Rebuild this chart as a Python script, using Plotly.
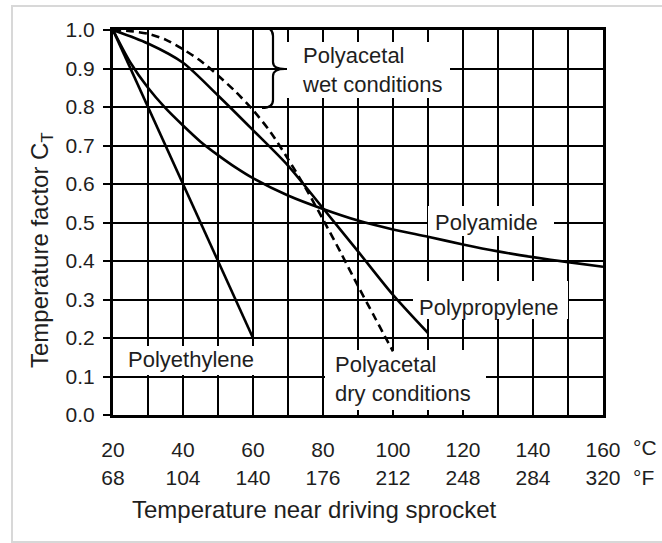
import plotly.graph_objects as go

# ---------------- data ----------------
polyethylene_T = [20, 60]
polyethylene_C = [1.0, 0.2]

polyamide_T = [20, 25, 30, 35, 40, 45, 50, 55, 60, 70, 80, 90, 100, 110, 120, 130, 140, 150, 160]
polyamide_C = [1.0, 0.915, 0.85, 0.797, 0.752, 0.71, 0.675, 0.643, 0.615, 0.57, 0.535, 0.505, 0.482, 0.463, 0.443, 0.425, 0.41, 0.397, 0.385]

polypropylene_T = [20, 30, 40, 50, 60, 70, 80, 90, 100, 110]
polypropylene_C = [1.0, 0.965, 0.915, 0.83, 0.74, 0.648, 0.537, 0.425, 0.312, 0.213]

polyacetal_T = [20, 25, 30, 35, 40, 45, 50, 55, 60, 65, 70, 75, 80, 85, 90, 95, 100]
polyacetal_C = [1.0, 0.997, 0.99, 0.975, 0.95, 0.92, 0.882, 0.84, 0.792, 0.735, 0.665, 0.59, 0.508, 0.423, 0.335, 0.25, 0.165]

celsius_ticks = [20, 40, 60, 80, 100, 120, 140, 160]
fahrenheit_ticks = [68, 104, 140, 176, 212, 248, 284, 320]
y_ticks = [0.0, 0.1, 0.2, 0.3, 0.4, 0.5, 0.6, 0.7, 0.8, 0.9, 1.0]

# ---------------- geometry helpers (pixel -> data/paper) ----------------
L, R, T, B = 113, 59, 30, 128
W, H = 662, 543
PW, PH = W - L - R, H - T - B
X0, X1 = 20, 160


def tx(px):
    return X0 + (px - L) / PW * (X1 - X0)


def ty(py):
    return 1 - (py - T) / PH


def px_(px):
    return (px - L) / PW


def py_(py):
    return (T + PH - py) / PH


FONT = "Liberation Sans, Arial, sans-serif"
TXT = "#1e1e1e"
FS = 21      # tick numbers
FL = 22      # curve labels
FT = 24      # axis titles

fig = go.Figure()
fig.add_trace(go.Scatter(x=polyethylene_T, y=polyethylene_C, mode="lines",
                         line=dict(color="black", width=2.6)))
fig.add_trace(go.Scatter(x=polyamide_T, y=polyamide_C, mode="lines",
                         line=dict(color="black", width=2.6, shape="spline", smoothing=0.8)))
fig.add_trace(go.Scatter(x=polypropylene_T, y=polypropylene_C, mode="lines",
                         line=dict(color="black", width=2.6, shape="spline", smoothing=0.8)))
fig.add_trace(go.Scatter(x=polyacetal_T, y=polyacetal_C, mode="lines",
                         line=dict(color="black", width=2.6, shape="spline", smoothing=0.8, dash="8px,5px")))

# white masks over gridlines behind labels
masks = [
    (287, 450, 42, 98),
    (428, 554, 206, 236),
    (413, 568, 281, 319),
    (118, 263, 346, 375),
    (325, 486, 350, 410),
]
shapes = []
for x0, x1, y0, y1 in masks:
    shapes.append(dict(type="rect", xref="x", yref="y", x0=tx(x0), x1=tx(x1), y0=ty(y1), y1=ty(y0),
                       fillcolor="white", line=dict(width=0), layer="between"))

# curly brace for "wet conditions"
bx0, bx1, bx2 = tx(262), tx(273), tx(285)
path = (f"M {bx0},{ty(27)} Q {bx1},{ty(27)} {bx1},{ty(36)} L {bx1},{ty(62)} "
        f"Q {bx1},{ty(69)} {bx2},{ty(69)} Q {bx1},{ty(69)} {bx1},{ty(76)} "
        f"L {bx1},{ty(100)} Q {bx1},{ty(108)} {bx0},{ty(108)}")
shapes.append(dict(type="path", xref="x", yref="y", path=path, line=dict(color="black", width=2.2), layer="above"))

# outer light frame
shapes.append(dict(type="rect", xref="paper", yref="paper", x0=px_(12), x1=px_(690), y0=py_(542), y1=py_(6),
                   line=dict(color="#d8d8d8", width=2), fillcolor="rgba(0,0,0,0)", layer="below"))

annotations = []


def lab(text, px, py, size=FL):
    annotations.append(dict(x=tx(px), y=ty(py), xref="x", yref="y", text=text, showarrow=False,
                            xanchor="left", yanchor="middle", align="left",
                            font=dict(family=FONT, size=size, color=TXT)))


lab("Polyacetal<br>wet conditions", 300, 70)
lab("Polyamide", 433, 222)
lab("Polypropylene", 417, 307)
lab("Polyethylene", 126, 359)
lab("Polyacetal<br>dry conditions", 333, 379)

# unit labels
for txt, py in (("°C", 448), ("°F", 477)):
    annotations.append(dict(x=px_(631), y=py_(py), xref="paper", yref="paper", text=txt, showarrow=False,
                            xanchor="left", yanchor="middle", font=dict(family=FONT, size=FS, color=TXT)))

# axis titles
annotations.append(dict(x=px_(314), y=py_(509), xref="paper", yref="paper",
                        text="Temperature near driving sprocket", showarrow=False,
                        xanchor="center", yanchor="middle", font=dict(family=FONT, size=FT, color=TXT)))
annotations.append(dict(x=px_(41), y=py_(250), xref="paper", yref="paper",
                        text="Temperature factor C<sub>T</sub>", showarrow=False, textangle=-90,
                        xanchor="center", yanchor="middle", font=dict(family=FONT, size=FT, color=TXT)))

x_ticktext = [f"{c}<br>{f}" for c, f in zip(celsius_ticks, fahrenheit_ticks)]

fig.update_layout(
    width=W, height=H,
    margin=dict(l=L, r=R, t=T, b=B, pad=0),
    paper_bgcolor="white", plot_bgcolor="white",
    showlegend=False,
    shapes=shapes, annotations=annotations,
    font=dict(family=FONT, size=FS, color=TXT),
    xaxis=dict(range=[X0, X1], tickvals=celsius_ticks, ticktext=x_ticktext, ticks="",
               showgrid=True, gridcolor="black", gridwidth=2,
               minor=dict(dtick=10, tick0=20, showgrid=True, gridcolor="black", gridwidth=2, ticks=""),
               showline=True, linecolor="black", linewidth=3, mirror=True,
               zeroline=False, ticklabelstandoff=14,
               tickfont=dict(family=FONT, size=FS, color=TXT)),
    yaxis=dict(range=[0, 1], tickvals=y_ticks, ticktext=[f"{v:.1f}" for v in y_ticks],
               ticks="outside", ticklen=7, tickwidth=2, tickcolor="black",
               showgrid=True, gridcolor="black", gridwidth=2,
               showline=True, linecolor="black", linewidth=3, mirror=True,
               zeroline=False, ticklabelstandoff=4,
               tickfont=dict(family=FONT, size=FS, color=TXT)),
)

fig.write_html("out.html")
